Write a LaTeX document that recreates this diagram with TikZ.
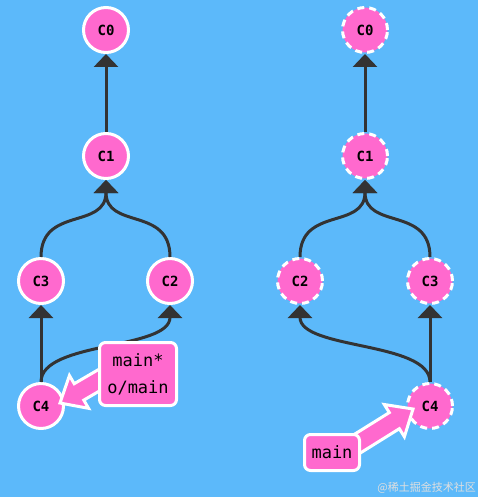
\documentclass[tikz,border=0pt]{standalone}
\usepackage{fontspec}
\setmonofont{DejaVu Sans Mono}
\newfontfamily\cjkfont{Noto Sans CJK SC}
\usetikzlibrary{arrows.meta,calc}
\definecolor{sfondo}{HTML}{5CB9FA}
\definecolor{rosa}{HTML}{FF69CE}
\definecolor{ramo}{HTML}{333333}
\pgfdeclarelayer{front}
\pgfsetlayers{main,front}

\tikzset{
  commit/.style={circle, draw=white, line width=3pt, fill=rosa, minimum size=45pt,
    inner sep=0pt, font=\ttfamily\bfseries\fontsize{14}{14}\selectfont},
  remoto/.style={commit, dash pattern=on 7pt off 5pt},
  ramo/.style={draw=ramo, line width=3pt, -{Triangle[length=13pt,width=24pt]}},
  etichetta/.style={draw=white, line width=3pt, fill=rosa, rounded corners=6pt,
    inner sep=0pt, align=center, font=\ttfamily\fontsize{17}{27}\selectfont},
}

% freccia grossa: #1 punta, #2 coda
\newcommand{\puntatore}[2]{%
  \coordinate (pb) at ($(#1)!22pt!(#2)$);
  \draw[white, line width=3pt, fill=rosa, line join=miter]
  (#1) -- ($(pb)!19pt!90:(#2)$) -- ($(pb)!9.5pt!90:(#2)$) -- ($(#2)!9.5pt!-90:(pb)$)
  -- ($(#2)!9.5pt!90:(pb)$) -- ($(pb)!9.5pt!-90:(#2)$) -- ($(pb)!19pt!-90:(#2)$) -- cycle;}

\begin{document}
\begin{tikzpicture}[x=1pt, y=-1pt]
        \fill[sfondo] (0,0) rectangle (478,497);
        \useasboundingbox (0,0) rectangle (478,497);

        % Albero di sinistra
        \node[commit] (lc0) at (106,30)  {C0};
        \node[commit] (lc1) at (106,156) {C1};
        \node[commit] (lc3) at (41,281)  {C3};
        \node[commit] (lc2) at (170,281) {C2};
        \node[commit] (lc4) at (41,406)  {C4};

        \draw[ramo] (lc1) -- (lc0);
        \draw[ramo] (lc3.north) .. controls +(0,-51) and +(0,50) .. (lc1.south);
        \draw[ramo] (lc2.north) .. controls +(0,-51) and +(0,50) .. (lc1.south);
        \draw[ramo] (lc4) -- (lc3);
        \draw[ramo] (lc4.north) .. controls +(0,-41) and +(0,45) .. (lc2.south);

        % Albero di destra (remoto)
        \node[remoto] (rc0) at (365,30)  {C0};
        \node[remoto] (rc1) at (365,156) {C1};
        \node[remoto] (rc2) at (300,281) {C2};
        \node[remoto] (rc3) at (430,281) {C3};
        \node[remoto] (rc4) at (430,406) {C4};

        \draw[ramo] (rc1) -- (rc0);
        \draw[ramo] (rc2.north) .. controls +(0,-51) and +(0,50) .. (rc1.south);
        \draw[ramo] (rc3.north) .. controls +(0,-51) and +(0,50) .. (rc1.south);
        \draw[ramo] (rc4) -- (rc3);
        \draw[ramo] (rc4.north) .. controls +(0,-41) and +(0,45) .. (rc2.south);

        % Etichette dei rami
        \begin{pgfonlayer}{front}
        \node[etichetta, minimum width=77pt, minimum height=63pt] (lbox) at (138,374) {main*\\o/main};
        \node[etichetta, minimum width=55pt, minimum height=36pt] (rbox) at (332,452.5) {main};
        \end{pgfonlayer}

        \coordinate (lpunta) at ($(lc4.east)+(-5,-3)$);
        \coordinate (lcoda) at ($(lbox.west)+(10,1)$);
        \puntatore{lpunta}{lcoda}

        \coordinate (rpunta) at ($(rc4.west)+(7,3)$);
        \coordinate (rcoda) at ($(rbox.east)+(-9,-5.5)$);
        \puntatore{rpunta}{rcoda}

        % Filigrana
        \node[anchor=east, inner sep=0pt, text=white!75!gray, font=\cjkfont\fontsize{11}{11}\selectfont] (marchio) at (476,488) {@稀土掘金技术社区};
    \end{tikzpicture}
\end{document}
